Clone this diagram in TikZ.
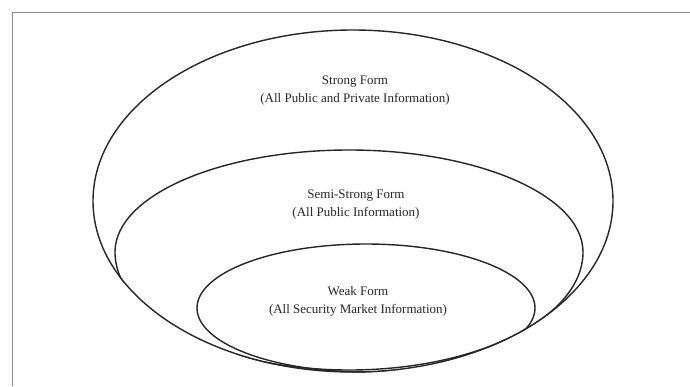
\documentclass[tikz,border=0pt]{standalone}
\usepackage{fontspec}
\setmainfont{Liberation Serif}
\usetikzlibrary{shapes.geometric}
\definecolor{inkc}{HTML}{262626}
\definecolor{framec}{HTML}{8A8A8A}
\begin{document}
\begin{tikzpicture}[x=1pt,y=-1pt,
  ring/.style={draw=inkc, line width=1.4pt, ellipse, inner sep=0pt},
  ringline/.style={draw=inkc, line width=1.4pt},
  lbl/.style={align=center, text=inkc, font=\fontsize{13}{18}\selectfont, inner sep=0pt}]
\useasboundingbox (0,0) rectangle (690,386);
\fill[white] (0,0) rectangle (690,386);
\coordinate (fa) at (12,386);
\coordinate (fb) at (12,12);
\coordinate (fc) at (690,12);
\draw[framec, line width=1pt] (fa) -- (fb) -- (fc);
\node[ring, minimum width=520pt, minimum height=342pt] (outer) at (353,201) {};
\begin{scope}
  \clip (353,201) ellipse [x radius=260.7pt, y radius=171.7pt];
  \coordinate (midleft) at (115,252);
  \path[ringline] (midleft)
     arc[start angle=180, end angle=0, x radius=234pt, y radius=102pt]
     arc[start angle=0, end angle=-180, x radius=234pt, y radius=118pt] -- cycle;
  \node[ring, minimum width=338pt, minimum height=128pt] (inner) at (366,308) {};
\end{scope}
\node[lbl] (strong) at (355,91) {Strong Form\\(All Public and Private Information)};
\node[lbl] (semi) at (356,205) {Semi-Strong Form\\(All Public Information)};
\node[lbl] (weak) at (358,301) {Weak Form\\(All Security Market Information)};
\end{tikzpicture}
\end{document}
